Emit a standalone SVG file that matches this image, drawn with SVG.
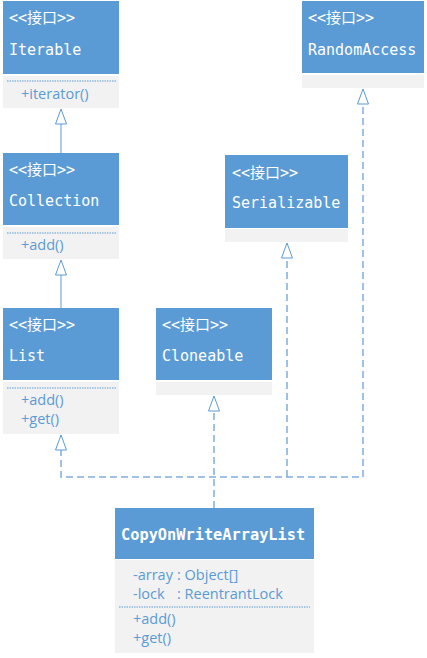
<svg xmlns="http://www.w3.org/2000/svg" width="427" height="658" viewBox="0 0 427 658">
<defs>
<style>
.hd{fill:#5B9BD5}
.bd{fill:#F2F2F2}
.t{font-family:"DejaVu Sans Mono","Liberation Mono","Noto Sans CJK SC",monospace;font-size:15px;fill:#FFFFFF}
.tb{font-family:"DejaVu Sans Mono","Liberation Mono",monospace;font-size:15.3px;font-weight:bold;fill:#FFFFFF}
.m{font-family:"Open Sans","Liberation Sans",sans-serif;font-size:14.5px;fill:#5B9BD5}
.sep{stroke:#5B9BD5;stroke-width:1;stroke-dasharray:1.5 1}
.solid{stroke:#5B9BD5;stroke-width:1;fill:none}
.dash{stroke:#7FAEE0;stroke-width:1.5;fill:none;stroke-dasharray:7 4}
.tri{fill:#FFFFFF;stroke:#5B9BD5;stroke-width:1}
</style>
</defs>
<rect width="427" height="658" fill="#FFFFFF"/>
<g id="connectors">
<line class="solid" x1="61" y1="124" x2="61" y2="153"/>
<polygon class="tri" points="61,109 55.5,124 66.5,124"/>
<line class="solid" x1="61" y1="275" x2="61" y2="308"/>
<polygon class="tri" points="61,260 55.5,275 66.5,275"/>
<path class="dash" d="M214,508 V411"/>
<polygon class="tri" points="214,396 208.5,411 219.5,411"/>
<path class="dash" d="M61,449 V477 H363 V104"/>
<polygon class="tri" points="61,435 55.5,450 66.5,450"/>
<path class="dash" d="M287,477 V258"/>
<polygon class="tri" points="287,243 281.5,258 292.5,258"/>
<polygon class="tri" points="363,89 357.5,104 368.5,104"/>
</g>
<g id="Iterable">
<rect class="hd" x="3" y="1" width="116" height="73"/>
<rect class="bd" x="3" y="76" width="116" height="32"/>
<line class="sep" x1="7" y1="81" x2="116" y2="81"/>
<text class="t" x="9" y="23">&lt;&lt;接口&gt;&gt;</text>
<text class="t" x="9" y="55">Iterable</text>
<text class="m" x="21" y="99">+iterator()</text>
</g>
<g id="Collection">
<rect class="hd" x="3" y="153" width="116" height="72"/>
<rect class="bd" x="3" y="227" width="116" height="32"/>
<line class="sep" x1="7" y1="233" x2="116" y2="233"/>
<text class="t" x="9" y="175">&lt;&lt;接口&gt;&gt;</text>
<text class="t" x="9" y="206">Collection</text>
<text class="m" x="21" y="250">+add()</text>
</g>
<g id="List">
<rect class="hd" x="3" y="308" width="116" height="72"/>
<rect class="bd" x="3" y="382" width="116" height="52"/>
<line class="sep" x1="7" y1="388" x2="116" y2="388"/>
<text class="t" x="9" y="330">&lt;&lt;接口&gt;&gt;</text>
<text class="t" x="9" y="361">List</text>
<text class="m" x="21" y="405">+add()</text>
<text class="m" x="21" y="424">+get()</text>
</g>
<g id="Cloneable">
<rect class="hd" x="156" y="308" width="116" height="72"/>
<rect class="bd" x="156" y="382" width="116" height="13"/>
<text class="t" x="162" y="330">&lt;&lt;接口&gt;&gt;</text>
<text class="t" x="162" y="361">Cloneable</text>
</g>
<g id="Serializable">
<rect class="hd" x="225" y="155" width="123" height="73"/>
<rect class="bd" x="225" y="229" width="123" height="13"/>
<text class="t" x="232" y="178">&lt;&lt;接口&gt;&gt;</text>
<text class="t" x="232" y="208">Serializable</text>
</g>
<g id="RandomAccess">
<rect class="hd" x="302" y="1" width="122" height="72"/>
<rect class="bd" x="302" y="75" width="122" height="13"/>
<text class="t" x="308" y="23">&lt;&lt;接口&gt;&gt;</text>
<text class="t" x="308" y="55">RandomAccess</text>
</g>
<g id="CopyOnWriteArrayList">
<rect class="hd" x="115" y="508" width="199" height="51"/>
<rect class="bd" x="115" y="560" width="199" height="93"/>
<line class="sep" x1="119" y1="607" x2="310" y2="607"/>
<text class="tb" x="121" y="540">CopyOnWriteArrayList</text>
<text class="m" x="133" y="580">-array</text>
<text class="m" x="177" y="580">: Object[]</text>
<text class="m" x="133" y="599">-lock</text>
<text class="m" x="177" y="599">: ReentrantLock</text>
<text class="m" x="133" y="624">+add()</text>
<text class="m" x="133" y="643">+get()</text>
</g>
</svg>
